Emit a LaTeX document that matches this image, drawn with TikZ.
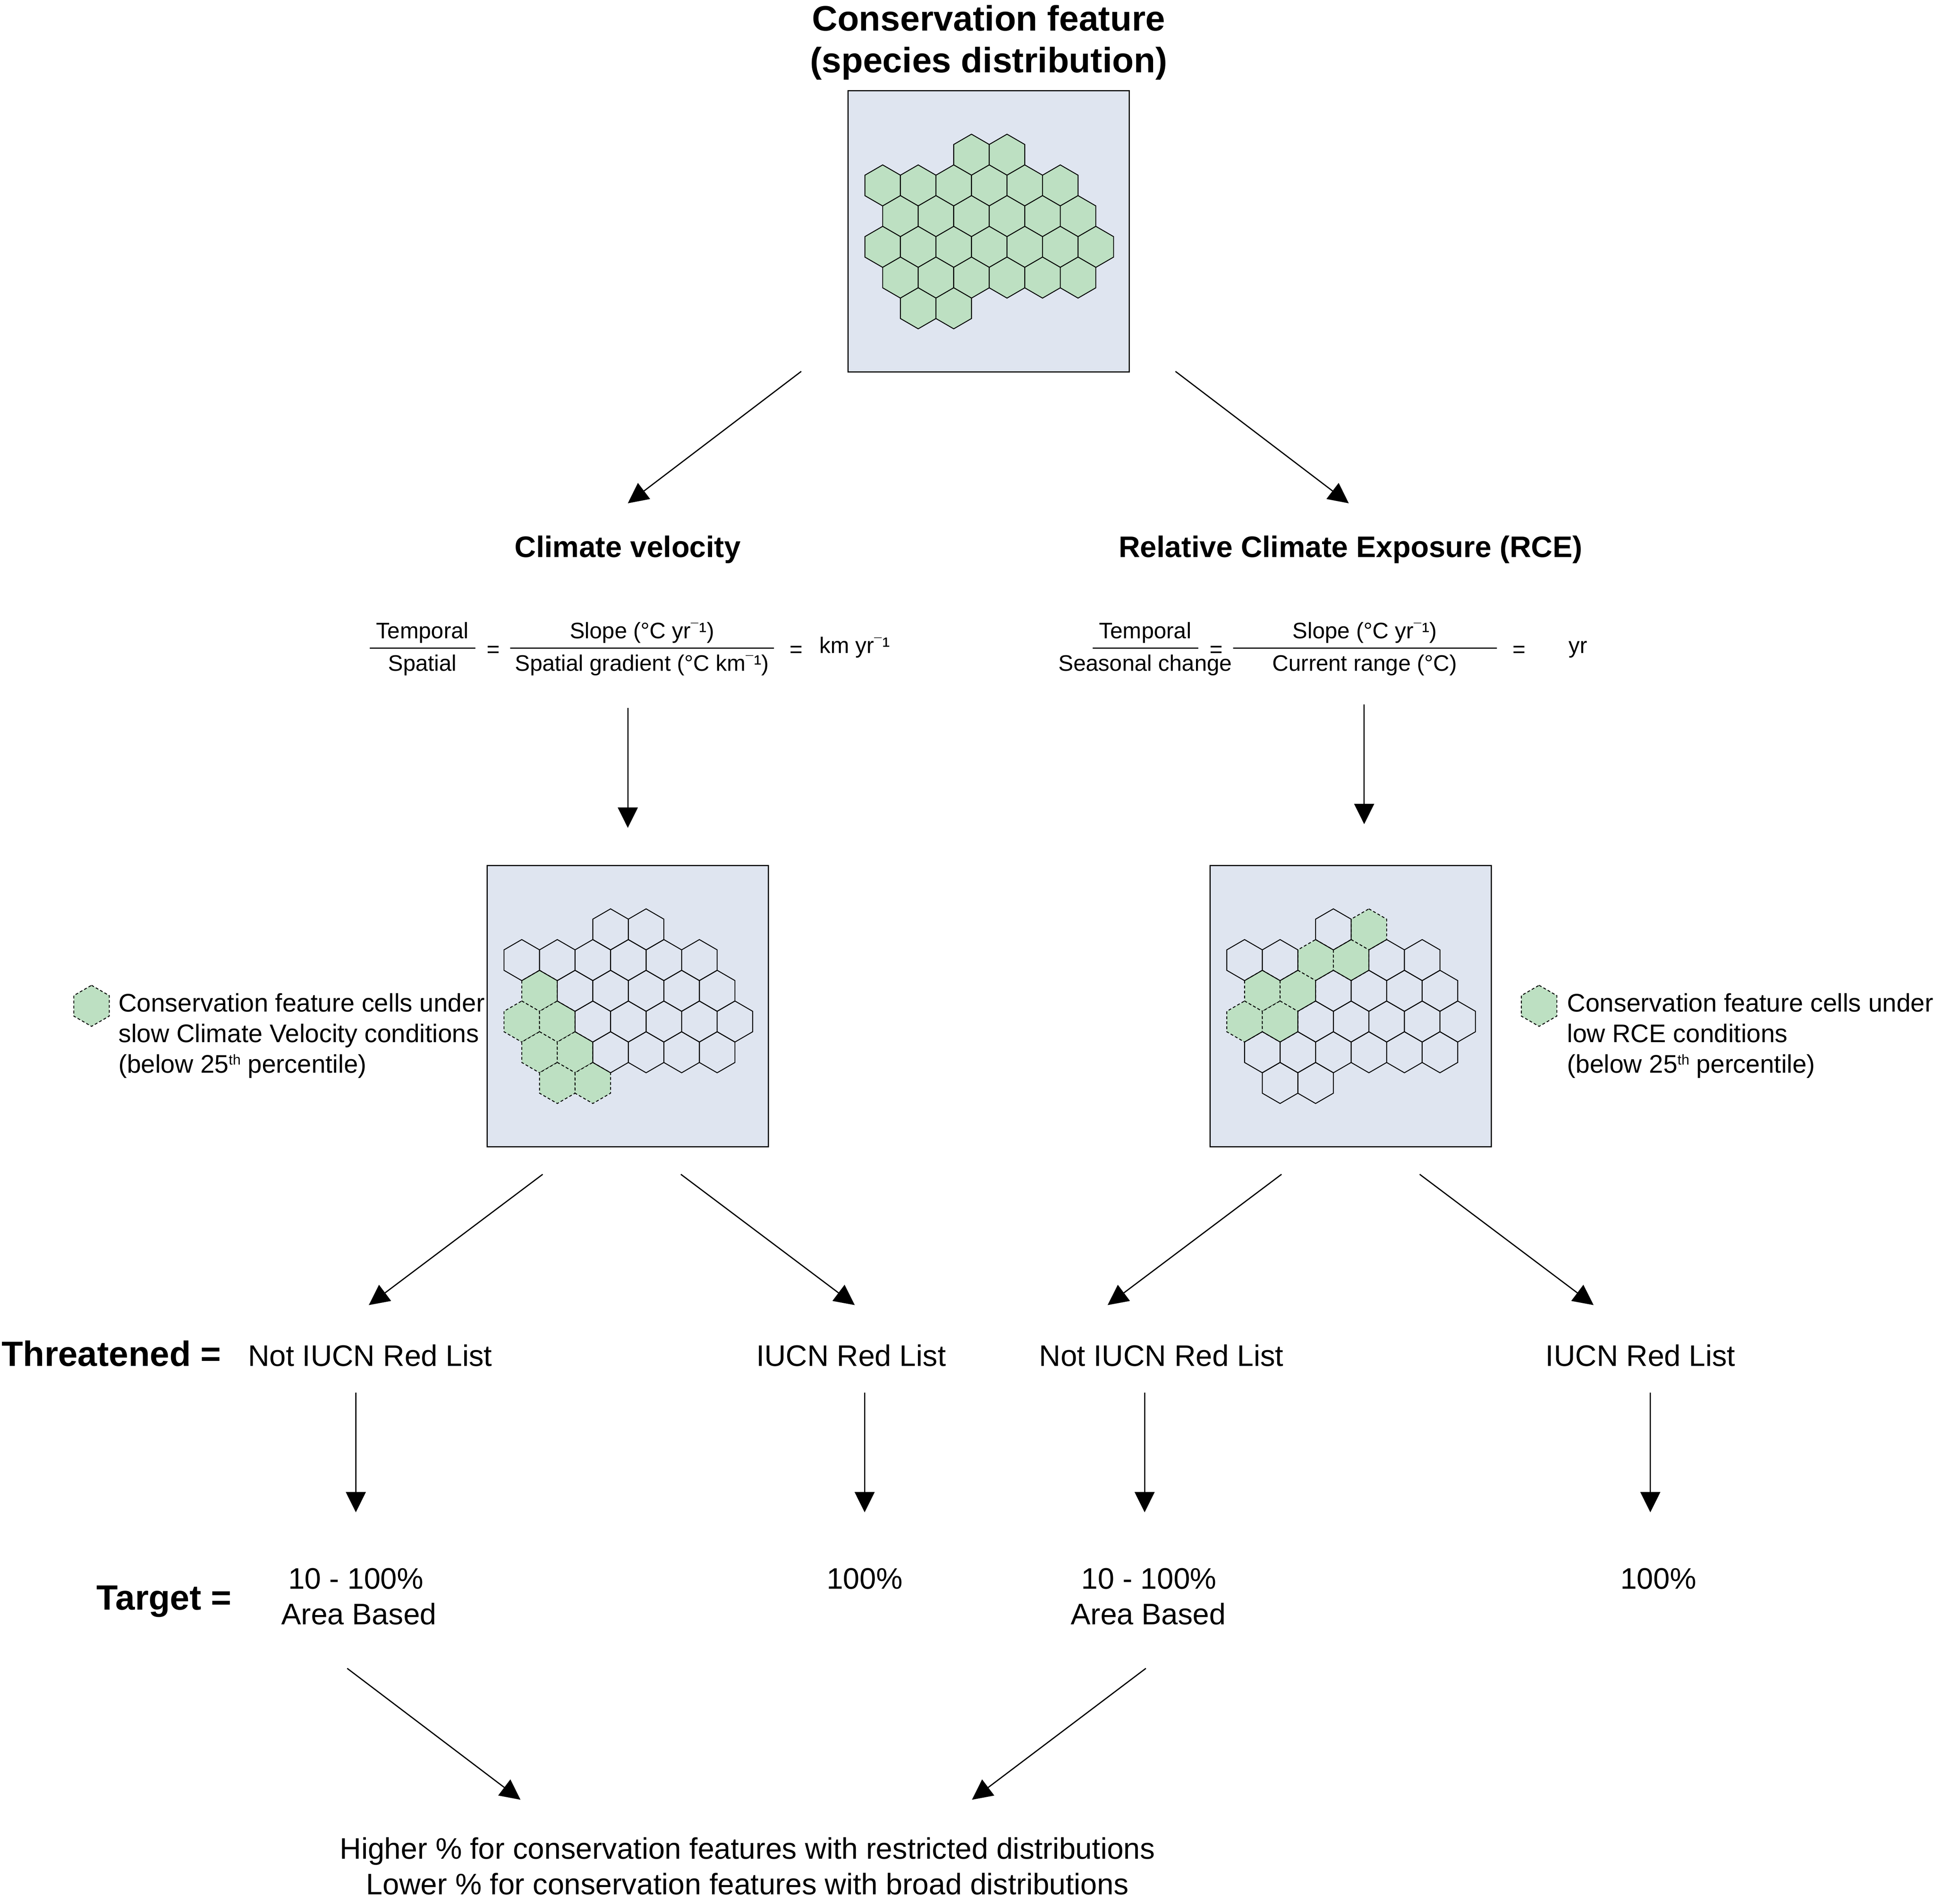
\documentclass[tikz,border=0pt]{standalone}
\usepackage{fontspec}
\setmainfont{Liberation Sans}
\usetikzlibrary{arrows.meta}
\definecolor{mapblue}{HTML}{DFE5F0}
\definecolor{cellgreen}{HTML}{BDE0C2}
\tikzset{
  mapbox/.style={draw, fill=mapblue, line width=0.55pt, minimum size=4.56cm, inner sep=0pt, outer sep=0pt},
  cellline/.style={draw, line width=0.42pt, line join=miter},
  cellfill/.style={draw, fill=cellgreen, line width=0.42pt},
  celldash/.style={draw, fill=cellgreen, line width=0.42pt, dash pattern=on 1.3pt off 1pt},
  flow/.style={line width=0.55pt, -{Triangle[length=9.4pt, width=9.2pt]}},
  fracline/.style={line width=0.55pt},
  title/.style={font=\fontsize{16.3}{19.4}\selectfont\bfseries, inner sep=0pt, align=center},
  heading/.style={font=\fontsize{13.7}{16}\selectfont\bfseries, inner sep=0pt, anchor=base},
  sidehead/.style={font=\fontsize{16.2}{19}\selectfont\bfseries, inner sep=0pt, anchor=base west},
  formula/.style={font=\fontsize{10.35}{12}\selectfont, inner sep=0pt, anchor=base},
  legend/.style={font=\fontsize{11.74}{14.1}\selectfont, inner sep=0pt, anchor=west, align=left},
  body/.style={font=\fontsize{13.7}{16}\selectfont, inner sep=0pt, anchor=base}
}
% One hexagon at x,y, and one at column,row of a map
\newcommand{\hexat}[3]{\draw[#1, shift={(#2,#3)}] (0,-16.65) -- (14.4,-8.3) -- (14.4,8.3) -- (0,16.65) -- (-14.4,8.3) -- (-14.4,-8.3) -- cycle;}
\newcommand{\hexcell}[3]{\hexat{#1}{{28+14.4*#2}}{{51.8+24.9*#3}}}
% Raised bar and small th, as the text prints them
\newcommand{\supbar}{\raisebox{2.5pt}{\fontsize{6.2}{7}\selectfont\bfseries ¯}\kern0.4pt}
\newcommand{\supth}{\raisebox{3.7pt}{\fontsize{6.6}{7}\selectfont th}}
\begin{document}
\begin{tikzpicture}[x=0.02cm, y=-0.02cm]
\useasboundingbox (0,0) rectangle (1568,1543.5);
% Title and map of the feature
\node[title] (feature) at (801.5,34.5) {Conservation feature\\(species distribution)};
\node[mapbox] (featbox) at (801.6,187.6) {};
\begin{scope}[shift={(featbox.north west)}]
\foreach \c/\r in {5/0,7/0,0/1,2/1,4/1,6/1,8/1,10/1,1/2,3/2,5/2,7/2,9/2,11/2,0/3,2/3,4/3,6/3,8/3,10/3,12/3,1/4,3/4,5/4,7/4,9/4,11/4,2/5,4/5}
  {\hexcell{cellfill}{\c}{\r}}
\end{scope}
% Headings
\node[heading] (velhead) at (509,451.7) {Climate velocity};
\node[heading] (rcehead) at (1095,451.7) {Relative Climate Exposure (RCE)};
% Climate velocity formula
\node[formula] (tempvel) at (342.5,517.7) {Temporal};
\node[formula] (spatvel) at (342.5,544) {Spatial};
\node[formula] (eqvela) at (400,532.5) {=};
\node[formula] (slopevel) at (520.5,517.7) {Slope (°C yr\supbar¹)};
\node[formula] (gradvel) at (520.5,544) {Spatial gradient (°C km\supbar¹)};
\node[formula] (eqvelb) at (645.5,532.5) {=};
\node[formula, anchor=base west] (unitvel) at (664,529.5) {km yr\supbar¹};
\draw[fracline] ([shift={(-42.7,7.8)}]tempvel.base) -- ([shift={(42.9,7.8)}]tempvel.base);
\draw[fracline] ([shift={(-107,7.8)}]slopevel.base) -- ([shift={(107,7.8)}]slopevel.base);
% RCE formula
\node[formula] (temprce) at (928.5,517.7) {Temporal};
\node[formula] (seasrce) at (928.5,544) {Seasonal change};
\node[formula] (eqrcea) at (986,532.5) {=};
\node[formula] (sloperce) at (1106.5,517.7) {Slope (°C yr\supbar¹)};
\node[formula] (currce) at (1106.5,544) {Current range (°C)};
\node[formula] (eqrceb) at (1231.5,532.5) {=};
\node[formula, anchor=base west] (unitrce) at (1271.5,529.5) {yr};
\draw[fracline] ([shift={(-42.5,7.8)}]temprce.base) -- ([shift={(43,7.8)}]temprce.base);
\draw[fracline] ([shift={(-106.7,7.8)}]sloperce.base) -- ([shift={(107,7.8)}]sloperce.base);
% Map under climate velocity
\node[mapbox] (velbox) at (509,815.6) {};
\begin{scope}[shift={(velbox.north west)}]
\foreach \c/\r in {1/2,0/3,2/3,1/4,3/4,2/5,4/5}
  {\hexcell{celldash}{\c}{\r}}
\foreach \c/\r in {5/0,7/0,0/1,2/1,4/1,6/1,8/1,10/1,3/2,5/2,7/2,9/2,11/2,4/3,6/3,8/3,10/3,12/3,5/4,7/4,9/4,11/4}
  {\hexcell{cellline}{\c}{\r}}
\end{scope}
% Map under RCE
\node[mapbox] (rcebox) at (1095,815.6) {};
\begin{scope}[shift={(rcebox.north west)}]
\foreach \c/\r in {7/0,4/1,6/1,1/2,3/2,0/3,2/3}
  {\hexcell{celldash}{\c}{\r}}
\foreach \c/\r in {5/0,0/1,2/1,8/1,10/1,5/2,7/2,9/2,11/2,4/3,6/3,8/3,10/3,12/3,1/4,3/4,5/4,7/4,9/4,11/4,2/5,4/5}
  {\hexcell{cellline}{\c}{\r}}
\end{scope}
% Legends
\hexat{celldash}{74.2}{815.4}
\node[legend] (legvel) at (95.7,839.6) {Conservation feature cells under\\slow Climate Velocity conditions\\(below 25\supth{} percentile)};
\hexat{celldash}{1247.8}{815.4}
\node[legend] (legrce) at (1270.2,839.6) {Conservation feature cells under\\low RCE conditions\\(below 25\supth{} percentile)};
% Threatened row
\node[sidehead] (threat) at (1,1107.5) {Threatened =};
\node[body] (notvel) at (300,1107.5) {Not IUCN Red List};
\node[body] (redvel) at (690,1107.5) {IUCN Red List};
\node[body] (notrce) at (941.5,1107.5) {Not IUCN Red List};
\node[body] (redrce) at (1330,1107.5) {IUCN Red List};
% Target rows
\node[sidehead] (target) at (78,1305) {Target =};
\node[body] (targvel) at (288.5,1288) {10 - 100\%};
\node[body] (areavel) at (291,1317) {Area Based};
\node[body] (fullvel) at (701,1288) {100\%};
\node[body] (targrce) at (931.5,1288) {10 - 100\%};
\node[body] (arearce) at (931,1317) {Area Based};
\node[body] (fullrce) at (1344.5,1288) {100\%};
% Closing lines
\node[body] (higher) at (606,1507) {Higher \% for conservation features with restricted distributions};
\node[body] (lower) at (606,1535.7) {Lower \% for conservation features with broad distributions};
% Arrows
\draw[flow] ([shift={(-152,-0.5)}]featbox.south) -- ([shift={(0,-43.7)}]velhead.base);
\draw[flow] ([shift={(151.4,-0.5)}]featbox.south) -- ([shift={(-1.5,-43.7)}]rcehead.base);
\draw[flow] ([shift={(-11.5,30)}]gradvel.base) -- ([shift={(0,-30.5)}]velbox.north);
\draw[flow] ([shift={(-0.5,27)}]currce.base) -- ([shift={(11,-33.5)}]rcebox.north);
\draw[flow] ([shift={(-69,22.4)}]velbox.south) -- ([shift={(-1,-49.5)}]notvel.base);
\draw[flow] ([shift={(43,22.4)}]velbox.south) -- ([shift={(3,-49.5)}]redvel.base);
\draw[flow] ([shift={(-56,22.4)}]rcebox.south) -- ([shift={(-43.5,-49.5)}]notrce.base);
\draw[flow] ([shift={(56,22.4)}]rcebox.south) -- ([shift={(-38,-49.5)}]redrce.base);
\draw[flow] ([shift={(-11.5,21.5)}]notvel.base) -- ([shift={(0,-62)}]targvel.base);
\draw[flow] ([shift={(11,21.5)}]redvel.base) -- ([shift={(0,-62)}]fullvel.base);
\draw[flow] ([shift={(-13.5,21.5)}]notrce.base) -- ([shift={(-3.5,-62)}]targrce.base);
\draw[flow] ([shift={(8,21.5)}]redrce.base) -- ([shift={(-6.5,-62)}]fullrce.base);
\draw[flow] ([shift={(-9.5,35.5)}]areavel.base) -- ([shift={(-184,-48)}]higher.base);
\draw[flow] ([shift={(-2,35.5)}]arearce.base) -- ([shift={(182,-48)}]higher.base);
\end{tikzpicture}
\end{document}
